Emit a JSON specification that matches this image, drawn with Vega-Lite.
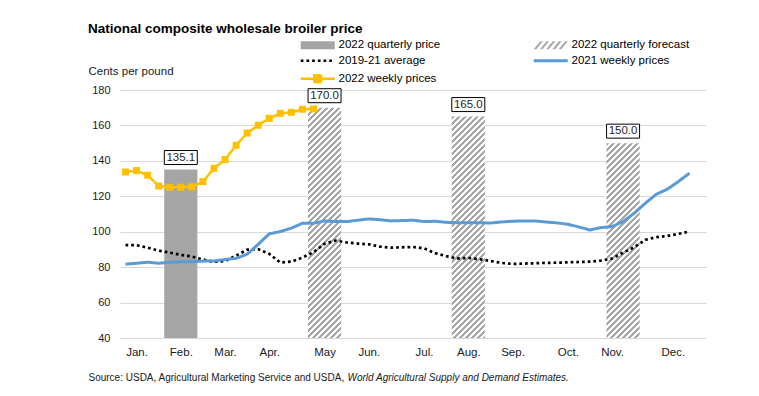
{
"$schema": "https://vega.github.io/schema/vega-lite/v6.json",
"width": 586, "height": 248,
"autosize": {"type": "none"},
"padding": {"left": 120, "top": 90, "right": 53, "bottom": 58},
"background": "#ffffff",
"title": {"text": "National composite wholesale broiler price", "anchor": "start", "frame": "group", "dx": -32, "dy": 0, "fontSize": 13.5, "fontWeight": "bold", "color": "#000000", "font": "Liberation Sans"},
"config": {"font": "Liberation Sans", "view": {"stroke": null}, "axis": {"labelColor": "#1a1a1a", "titleColor": "#1a1a1a", "titleFontWeight": "normal"}},
"datasets": {
"quarterly": [
{"series": "2022 quarterly price", "week": 6, "price": 135.1},
{"series": "2022 quarterly forecast", "week": 19, "price": 170.0},
{"series": "2022 quarterly forecast", "week": 32, "price": 165.0},
{"series": "2022 quarterly forecast", "week": 46, "price": 150.0}
],
"weekly": [
{"series":"2019-21 average","week":1,"price":92.4},{"series":"2019-21 average","week":2,"price":92.4},{"series":"2019-21 average","week":3,"price":91.0},{"series":"2019-21 average","week":4,"price":89.3},{"series":"2019-21 average","week":5,"price":88.2},{"series":"2019-21 average","week":6,"price":86.9},{"series":"2019-21 average","week":7,"price":86.0},{"series":"2019-21 average","week":8,"price":84.3},{"series":"2019-21 average","week":9,"price":83.0},{"series":"2019-21 average","week":10,"price":83.5},{"series":"2019-21 average","week":11,"price":86.5},{"series":"2019-21 average","week":12,"price":89.9},{"series":"2019-21 average","week":13,"price":90.1},{"series":"2019-21 average","week":14,"price":87.5},{"series":"2019-21 average","week":15,"price":82.6},{"series":"2019-21 average","week":16,"price":83.1},{"series":"2019-21 average","week":17,"price":85.4},{"series":"2019-21 average","week":18,"price":88.4},{"series":"2019-21 average","week":19,"price":93.2},{"series":"2019-21 average","week":20,"price":95.0},{"series":"2019-21 average","week":21,"price":93.9},{"series":"2019-21 average","week":22,"price":93.3},{"series":"2019-21 average","week":23,"price":92.9},{"series":"2019-21 average","week":24,"price":91.6},{"series":"2019-21 average","week":25,"price":91.0},{"series":"2019-21 average","week":26,"price":91.2},{"series":"2019-21 average","week":27,"price":91.4},{"series":"2019-21 average","week":28,"price":90.6},{"series":"2019-21 average","week":29,"price":87.9},{"series":"2019-21 average","week":30,"price":86.2},{"series":"2019-21 average","week":31,"price":84.9},{"series":"2019-21 average","week":32,"price":85.2},{"series":"2019-21 average","week":33,"price":84.5},{"series":"2019-21 average","week":34,"price":83.5},{"series":"2019-21 average","week":35,"price":82.4},{"series":"2019-21 average","week":36,"price":81.8},{"series":"2019-21 average","week":37,"price":82.0},{"series":"2019-21 average","week":38,"price":82.2},{"series":"2019-21 average","week":39,"price":82.4},{"series":"2019-21 average","week":40,"price":82.5},{"series":"2019-21 average","week":41,"price":82.7},{"series":"2019-21 average","week":42,"price":82.9},{"series":"2019-21 average","week":43,"price":83.1},{"series":"2019-21 average","week":44,"price":83.7},{"series":"2019-21 average","week":45,"price":84.8},{"series":"2019-21 average","week":46,"price":88.2},{"series":"2019-21 average","week":47,"price":91.2},{"series":"2019-21 average","week":48,"price":95.4},{"series":"2019-21 average","week":49,"price":96.9},{"series":"2019-21 average","week":50,"price":97.6},{"series":"2019-21 average","week":51,"price":98.8},{"series":"2019-21 average","week":52,"price":100.1},
{"series":"2021 weekly prices","week":1,"price":81.7},{"series":"2021 weekly prices","week":2,"price":82.2},{"series":"2021 weekly prices","week":3,"price":82.8},{"series":"2021 weekly prices","week":4,"price":82.2},{"series":"2021 weekly prices","week":5,"price":82.8},{"series":"2021 weekly prices","week":6,"price":83.0},{"series":"2021 weekly prices","week":7,"price":83.1},{"series":"2021 weekly prices","week":8,"price":83.4},{"series":"2021 weekly prices","week":9,"price":83.5},{"series":"2021 weekly prices","week":10,"price":84.3},{"series":"2021 weekly prices","week":11,"price":85.0},{"series":"2021 weekly prices","week":12,"price":87.3},{"series":"2021 weekly prices","week":13,"price":92.9},{"series":"2021 weekly prices","week":14,"price":98.8},{"series":"2021 weekly prices","week":15,"price":100.1},{"series":"2021 weekly prices","week":16,"price":102.0},{"series":"2021 weekly prices","week":17,"price":104.8},{"series":"2021 weekly prices","week":18,"price":104.8},{"series":"2021 weekly prices","week":19,"price":106.1},{"series":"2021 weekly prices","week":20,"price":105.7},{"series":"2021 weekly prices","week":21,"price":105.7},{"series":"2021 weekly prices","week":22,"price":106.5},{"series":"2021 weekly prices","week":23,"price":107.2},{"series":"2021 weekly prices","week":24,"price":106.8},{"series":"2021 weekly prices","week":25,"price":106.1},{"series":"2021 weekly prices","week":26,"price":106.3},{"series":"2021 weekly prices","week":27,"price":106.5},{"series":"2021 weekly prices","week":28,"price":105.7},{"series":"2021 weekly prices","week":29,"price":105.9},{"series":"2021 weekly prices","week":30,"price":105.3},{"series":"2021 weekly prices","week":31,"price":105.1},{"series":"2021 weekly prices","week":32,"price":105.1},{"series":"2021 weekly prices","week":33,"price":105.1},{"series":"2021 weekly prices","week":34,"price":104.9},{"series":"2021 weekly prices","week":35,"price":105.5},{"series":"2021 weekly prices","week":36,"price":105.9},{"series":"2021 weekly prices","week":37,"price":106.1},{"series":"2021 weekly prices","week":38,"price":106.1},{"series":"2021 weekly prices","week":39,"price":105.5},{"series":"2021 weekly prices","week":40,"price":105.0},{"series":"2021 weekly prices","week":41,"price":104.2},{"series":"2021 weekly prices","week":42,"price":102.7},{"series":"2021 weekly prices","week":43,"price":101.0},{"series":"2021 weekly prices","week":44,"price":102.3},{"series":"2021 weekly prices","week":45,"price":102.9},{"series":"2021 weekly prices","week":46,"price":105.7},{"series":"2021 weekly prices","week":47,"price":110.4},{"series":"2021 weekly prices","week":48,"price":116.0},{"series":"2021 weekly prices","week":49,"price":121.1},{"series":"2021 weekly prices","week":50,"price":124.0},{"series":"2021 weekly prices","week":51,"price":128.3},{"series":"2021 weekly prices","week":52,"price":133.0},
{"series":"2022 weekly prices","week":1,"price":133.7},{"series":"2022 weekly prices","week":2,"price":134.5},{"series":"2022 weekly prices","week":3,"price":131.9},{"series":"2022 weekly prices","week":4,"price":125.8},{"series":"2022 weekly prices","week":5,"price":125.1},{"series":"2022 weekly prices","week":6,"price":125.1},{"series":"2022 weekly prices","week":7,"price":125.3},{"series":"2022 weekly prices","week":8,"price":128.3},{"series":"2022 weekly prices","week":9,"price":135.8},{"series":"2022 weekly prices","week":10,"price":140.7},{"series":"2022 weekly prices","week":11,"price":148.8},{"series":"2022 weekly prices","week":12,"price":155.7},{"series":"2022 weekly prices","week":13,"price":160.1},{"series":"2022 weekly prices","week":14,"price":164.0},{"series":"2022 weekly prices","week":15,"price":166.8},{"series":"2022 weekly prices","week":16,"price":167.4},{"series":"2022 weekly prices","week":17,"price":169.1},{"series":"2022 weekly prices","week":18,"price":169.3}
]
},
"encoding": {
"y": {"field": "price", "type": "quantitative", "scale": {"domain": [40, 180], "nice": false, "zero": false, "padding": 0},
 "axis": {"values": [40,60,80,100,120,140,160,180], "ticks": false, "domain": false, "grid": true, "gridColor": "#d9d9d9", "gridWidth": 1, "labelPadding": 10, "labelFontSize": 11, "title": "Cents per pound", "titleFontSize": 11.5, "titleAngle": 0, "titleX": -32, "titleY": -19, "titleAlign": "left", "titleBaseline": "middle"}}
},
"resolve": {"axis": {"x": "independent"}},
"layer": [
{
"encoding": {"x": {"field": "week", "type": "quantitative", "scale": {"domain": [0.5, 53.5], "nice": false, "zero": false, "padding": 0},
 "axis": {"values": [2,6,10,14,19,23,28,32,36,41,45,50.5], "labelExpr": "['Jan.','Feb.','Mar.','Apr.','May','Jun.','Jul.','Aug.','Sep.','Oct.','Nov.','Dec.'][indexof([2,6,10,14,19,23,28,32,36,41,45,50.5], datum.value)]", "ticks": false, "domain": false, "grid": false, "labelPadding": 8, "labelFontSize": 11.5, "labelFlush": false, "labelOverlap": false, "title": "Source: USDA, Agricultural Marketing Service and USDA,", "titleFontSize": 10, "titleX": -32, "titleY": 42.5, "titleAlign": "left", "titleBaseline": "alphabetic"}}},
"layer": [
{"data": {"name": "quarterly"}, "transform": [{"filter": "datum.week === 6"}], "mark": {"type": "bar", "width": 33.17, "fill": "#a5a5a5"}, "encoding": {"y2": {"datum": 40}}},
{"data": {"name": "quarterly"}, "transform": [{"filter": "datum.week === 19"}], "mark": {"type": "bar", "width": 33.17, "fill": {"gradient": "linear", "x1": 0, "y1": 0, "x2": 0.16177, "y2": 1.12312, "stops": [
{"offset":0,"color":"#a6a6a6"},{"offset":0.0114,"color":"#a6a6a6"},{"offset":0.0114,"color":"#ffffff"},{"offset":0.0227,"color":"#ffffff"},
{"offset":0.0227,"color":"#a6a6a6"},{"offset":0.0341,"color":"#a6a6a6"},{"offset":0.0341,"color":"#ffffff"},{"offset":0.0455,"color":"#ffffff"},
{"offset":0.0455,"color":"#a6a6a6"},{"offset":0.0568,"color":"#a6a6a6"},{"offset":0.0568,"color":"#ffffff"},{"offset":0.0682,"color":"#ffffff"},
{"offset":0.0682,"color":"#a6a6a6"},{"offset":0.0795,"color":"#a6a6a6"},{"offset":0.0795,"color":"#ffffff"},{"offset":0.0909,"color":"#ffffff"},
{"offset":0.0909,"color":"#a6a6a6"},{"offset":0.1023,"color":"#a6a6a6"},{"offset":0.1023,"color":"#ffffff"},{"offset":0.1136,"color":"#ffffff"},
{"offset":0.1136,"color":"#a6a6a6"},{"offset":0.125,"color":"#a6a6a6"},{"offset":0.125,"color":"#ffffff"},{"offset":0.1364,"color":"#ffffff"},
{"offset":0.1364,"color":"#a6a6a6"},{"offset":0.1477,"color":"#a6a6a6"},{"offset":0.1477,"color":"#ffffff"},{"offset":0.1591,"color":"#ffffff"},
{"offset":0.1591,"color":"#a6a6a6"},{"offset":0.1705,"color":"#a6a6a6"},{"offset":0.1705,"color":"#ffffff"},{"offset":0.1818,"color":"#ffffff"},
{"offset":0.1818,"color":"#a6a6a6"},{"offset":0.1932,"color":"#a6a6a6"},{"offset":0.1932,"color":"#ffffff"},{"offset":0.2045,"color":"#ffffff"},
{"offset":0.2045,"color":"#a6a6a6"},{"offset":0.2159,"color":"#a6a6a6"},{"offset":0.2159,"color":"#ffffff"},{"offset":0.2273,"color":"#ffffff"},
{"offset":0.2273,"color":"#a6a6a6"},{"offset":0.2386,"color":"#a6a6a6"},{"offset":0.2386,"color":"#ffffff"},{"offset":0.25,"color":"#ffffff"},
{"offset":0.25,"color":"#a6a6a6"},{"offset":0.2614,"color":"#a6a6a6"},{"offset":0.2614,"color":"#ffffff"},{"offset":0.2727,"color":"#ffffff"},
{"offset":0.2727,"color":"#a6a6a6"},{"offset":0.2841,"color":"#a6a6a6"},{"offset":0.2841,"color":"#ffffff"},{"offset":0.2955,"color":"#ffffff"},
{"offset":0.2955,"color":"#a6a6a6"},{"offset":0.3068,"color":"#a6a6a6"},{"offset":0.3068,"color":"#ffffff"},{"offset":0.3182,"color":"#ffffff"},
{"offset":0.3182,"color":"#a6a6a6"},{"offset":0.3295,"color":"#a6a6a6"},{"offset":0.3295,"color":"#ffffff"},{"offset":0.3409,"color":"#ffffff"},
{"offset":0.3409,"color":"#a6a6a6"},{"offset":0.3523,"color":"#a6a6a6"},{"offset":0.3523,"color":"#ffffff"},{"offset":0.3636,"color":"#ffffff"},
{"offset":0.3636,"color":"#a6a6a6"},{"offset":0.375,"color":"#a6a6a6"},{"offset":0.375,"color":"#ffffff"},{"offset":0.3864,"color":"#ffffff"},
{"offset":0.3864,"color":"#a6a6a6"},{"offset":0.3977,"color":"#a6a6a6"},{"offset":0.3977,"color":"#ffffff"},{"offset":0.4091,"color":"#ffffff"},
{"offset":0.4091,"color":"#a6a6a6"},{"offset":0.4205,"color":"#a6a6a6"},{"offset":0.4205,"color":"#ffffff"},{"offset":0.4318,"color":"#ffffff"},
{"offset":0.4318,"color":"#a6a6a6"},{"offset":0.4432,"color":"#a6a6a6"},{"offset":0.4432,"color":"#ffffff"},{"offset":0.4545,"color":"#ffffff"},
{"offset":0.4545,"color":"#a6a6a6"},{"offset":0.4659,"color":"#a6a6a6"},{"offset":0.4659,"color":"#ffffff"},{"offset":0.4773,"color":"#ffffff"},
{"offset":0.4773,"color":"#a6a6a6"},{"offset":0.4886,"color":"#a6a6a6"},{"offset":0.4886,"color":"#ffffff"},{"offset":0.5,"color":"#ffffff"},
{"offset":0.5,"color":"#a6a6a6"},{"offset":0.5114,"color":"#a6a6a6"},{"offset":0.5114,"color":"#ffffff"},{"offset":0.5227,"color":"#ffffff"},
{"offset":0.5227,"color":"#a6a6a6"},{"offset":0.5341,"color":"#a6a6a6"},{"offset":0.5341,"color":"#ffffff"},{"offset":0.5455,"color":"#ffffff"},
{"offset":0.5455,"color":"#a6a6a6"},{"offset":0.5568,"color":"#a6a6a6"},{"offset":0.5568,"color":"#ffffff"},{"offset":0.5682,"color":"#ffffff"},
{"offset":0.5682,"color":"#a6a6a6"},{"offset":0.5795,"color":"#a6a6a6"},{"offset":0.5795,"color":"#ffffff"},{"offset":0.5909,"color":"#ffffff"},
{"offset":0.5909,"color":"#a6a6a6"},{"offset":0.6023,"color":"#a6a6a6"},{"offset":0.6023,"color":"#ffffff"},{"offset":0.6136,"color":"#ffffff"},
{"offset":0.6136,"color":"#a6a6a6"},{"offset":0.625,"color":"#a6a6a6"},{"offset":0.625,"color":"#ffffff"},{"offset":0.6364,"color":"#ffffff"},
{"offset":0.6364,"color":"#a6a6a6"},{"offset":0.6477,"color":"#a6a6a6"},{"offset":0.6477,"color":"#ffffff"},{"offset":0.6591,"color":"#ffffff"},
{"offset":0.6591,"color":"#a6a6a6"},{"offset":0.6705,"color":"#a6a6a6"},{"offset":0.6705,"color":"#ffffff"},{"offset":0.6818,"color":"#ffffff"},
{"offset":0.6818,"color":"#a6a6a6"},{"offset":0.6932,"color":"#a6a6a6"},{"offset":0.6932,"color":"#ffffff"},{"offset":0.7045,"color":"#ffffff"},
{"offset":0.7045,"color":"#a6a6a6"},{"offset":0.7159,"color":"#a6a6a6"},{"offset":0.7159,"color":"#ffffff"},{"offset":0.7273,"color":"#ffffff"},
{"offset":0.7273,"color":"#a6a6a6"},{"offset":0.7386,"color":"#a6a6a6"},{"offset":0.7386,"color":"#ffffff"},{"offset":0.75,"color":"#ffffff"},
{"offset":0.75,"color":"#a6a6a6"},{"offset":0.7614,"color":"#a6a6a6"},{"offset":0.7614,"color":"#ffffff"},{"offset":0.7727,"color":"#ffffff"},
{"offset":0.7727,"color":"#a6a6a6"},{"offset":0.7841,"color":"#a6a6a6"},{"offset":0.7841,"color":"#ffffff"},{"offset":0.7955,"color":"#ffffff"},
{"offset":0.7955,"color":"#a6a6a6"},{"offset":0.8068,"color":"#a6a6a6"},{"offset":0.8068,"color":"#ffffff"},{"offset":0.8182,"color":"#ffffff"},
{"offset":0.8182,"color":"#a6a6a6"},{"offset":0.8295,"color":"#a6a6a6"},{"offset":0.8295,"color":"#ffffff"},{"offset":0.8409,"color":"#ffffff"},
{"offset":0.8409,"color":"#a6a6a6"},{"offset":0.8523,"color":"#a6a6a6"},{"offset":0.8523,"color":"#ffffff"},{"offset":0.8636,"color":"#ffffff"},
{"offset":0.8636,"color":"#a6a6a6"},{"offset":0.875,"color":"#a6a6a6"},{"offset":0.875,"color":"#ffffff"},{"offset":0.8864,"color":"#ffffff"},
{"offset":0.8864,"color":"#a6a6a6"},{"offset":0.8977,"color":"#a6a6a6"},{"offset":0.8977,"color":"#ffffff"},{"offset":0.9091,"color":"#ffffff"},
{"offset":0.9091,"color":"#a6a6a6"},{"offset":0.9205,"color":"#a6a6a6"},{"offset":0.9205,"color":"#ffffff"},{"offset":0.9318,"color":"#ffffff"},
{"offset":0.9318,"color":"#a6a6a6"},{"offset":0.9432,"color":"#a6a6a6"},{"offset":0.9432,"color":"#ffffff"},{"offset":0.9545,"color":"#ffffff"},
{"offset":0.9545,"color":"#a6a6a6"},{"offset":0.9659,"color":"#a6a6a6"},{"offset":0.9659,"color":"#ffffff"},{"offset":0.9773,"color":"#ffffff"},
{"offset":0.9773,"color":"#a6a6a6"},{"offset":0.9886,"color":"#a6a6a6"},{"offset":0.9886,"color":"#ffffff"},{"offset":1,"color":"#ffffff"}
]}}, "encoding": {"y2": {"datum": 40}}},
{"data": {"name": "quarterly"}, "transform": [{"filter": "datum.week === 32"}], "mark": {"type": "bar", "width": 33.17, "fill": {"gradient": "linear", "x1": 0, "y1": 0, "x2": 0.17468, "y2": 1.1661, "stops": [
{"offset":0,"color":"#a6a6a6"},{"offset":0.0114,"color":"#a6a6a6"},{"offset":0.0114,"color":"#ffffff"},{"offset":0.0227,"color":"#ffffff"},
{"offset":0.0227,"color":"#a6a6a6"},{"offset":0.0341,"color":"#a6a6a6"},{"offset":0.0341,"color":"#ffffff"},{"offset":0.0455,"color":"#ffffff"},
{"offset":0.0455,"color":"#a6a6a6"},{"offset":0.0568,"color":"#a6a6a6"},{"offset":0.0568,"color":"#ffffff"},{"offset":0.0682,"color":"#ffffff"},
{"offset":0.0682,"color":"#a6a6a6"},{"offset":0.0795,"color":"#a6a6a6"},{"offset":0.0795,"color":"#ffffff"},{"offset":0.0909,"color":"#ffffff"},
{"offset":0.0909,"color":"#a6a6a6"},{"offset":0.1023,"color":"#a6a6a6"},{"offset":0.1023,"color":"#ffffff"},{"offset":0.1136,"color":"#ffffff"},
{"offset":0.1136,"color":"#a6a6a6"},{"offset":0.125,"color":"#a6a6a6"},{"offset":0.125,"color":"#ffffff"},{"offset":0.1364,"color":"#ffffff"},
{"offset":0.1364,"color":"#a6a6a6"},{"offset":0.1477,"color":"#a6a6a6"},{"offset":0.1477,"color":"#ffffff"},{"offset":0.1591,"color":"#ffffff"},
{"offset":0.1591,"color":"#a6a6a6"},{"offset":0.1705,"color":"#a6a6a6"},{"offset":0.1705,"color":"#ffffff"},{"offset":0.1818,"color":"#ffffff"},
{"offset":0.1818,"color":"#a6a6a6"},{"offset":0.1932,"color":"#a6a6a6"},{"offset":0.1932,"color":"#ffffff"},{"offset":0.2045,"color":"#ffffff"},
{"offset":0.2045,"color":"#a6a6a6"},{"offset":0.2159,"color":"#a6a6a6"},{"offset":0.2159,"color":"#ffffff"},{"offset":0.2273,"color":"#ffffff"},
{"offset":0.2273,"color":"#a6a6a6"},{"offset":0.2386,"color":"#a6a6a6"},{"offset":0.2386,"color":"#ffffff"},{"offset":0.25,"color":"#ffffff"},
{"offset":0.25,"color":"#a6a6a6"},{"offset":0.2614,"color":"#a6a6a6"},{"offset":0.2614,"color":"#ffffff"},{"offset":0.2727,"color":"#ffffff"},
{"offset":0.2727,"color":"#a6a6a6"},{"offset":0.2841,"color":"#a6a6a6"},{"offset":0.2841,"color":"#ffffff"},{"offset":0.2955,"color":"#ffffff"},
{"offset":0.2955,"color":"#a6a6a6"},{"offset":0.3068,"color":"#a6a6a6"},{"offset":0.3068,"color":"#ffffff"},{"offset":0.3182,"color":"#ffffff"},
{"offset":0.3182,"color":"#a6a6a6"},{"offset":0.3295,"color":"#a6a6a6"},{"offset":0.3295,"color":"#ffffff"},{"offset":0.3409,"color":"#ffffff"},
{"offset":0.3409,"color":"#a6a6a6"},{"offset":0.3523,"color":"#a6a6a6"},{"offset":0.3523,"color":"#ffffff"},{"offset":0.3636,"color":"#ffffff"},
{"offset":0.3636,"color":"#a6a6a6"},{"offset":0.375,"color":"#a6a6a6"},{"offset":0.375,"color":"#ffffff"},{"offset":0.3864,"color":"#ffffff"},
{"offset":0.3864,"color":"#a6a6a6"},{"offset":0.3977,"color":"#a6a6a6"},{"offset":0.3977,"color":"#ffffff"},{"offset":0.4091,"color":"#ffffff"},
{"offset":0.4091,"color":"#a6a6a6"},{"offset":0.4205,"color":"#a6a6a6"},{"offset":0.4205,"color":"#ffffff"},{"offset":0.4318,"color":"#ffffff"},
{"offset":0.4318,"color":"#a6a6a6"},{"offset":0.4432,"color":"#a6a6a6"},{"offset":0.4432,"color":"#ffffff"},{"offset":0.4545,"color":"#ffffff"},
{"offset":0.4545,"color":"#a6a6a6"},{"offset":0.4659,"color":"#a6a6a6"},{"offset":0.4659,"color":"#ffffff"},{"offset":0.4773,"color":"#ffffff"},
{"offset":0.4773,"color":"#a6a6a6"},{"offset":0.4886,"color":"#a6a6a6"},{"offset":0.4886,"color":"#ffffff"},{"offset":0.5,"color":"#ffffff"},
{"offset":0.5,"color":"#a6a6a6"},{"offset":0.5114,"color":"#a6a6a6"},{"offset":0.5114,"color":"#ffffff"},{"offset":0.5227,"color":"#ffffff"},
{"offset":0.5227,"color":"#a6a6a6"},{"offset":0.5341,"color":"#a6a6a6"},{"offset":0.5341,"color":"#ffffff"},{"offset":0.5455,"color":"#ffffff"},
{"offset":0.5455,"color":"#a6a6a6"},{"offset":0.5568,"color":"#a6a6a6"},{"offset":0.5568,"color":"#ffffff"},{"offset":0.5682,"color":"#ffffff"},
{"offset":0.5682,"color":"#a6a6a6"},{"offset":0.5795,"color":"#a6a6a6"},{"offset":0.5795,"color":"#ffffff"},{"offset":0.5909,"color":"#ffffff"},
{"offset":0.5909,"color":"#a6a6a6"},{"offset":0.6023,"color":"#a6a6a6"},{"offset":0.6023,"color":"#ffffff"},{"offset":0.6136,"color":"#ffffff"},
{"offset":0.6136,"color":"#a6a6a6"},{"offset":0.625,"color":"#a6a6a6"},{"offset":0.625,"color":"#ffffff"},{"offset":0.6364,"color":"#ffffff"},
{"offset":0.6364,"color":"#a6a6a6"},{"offset":0.6477,"color":"#a6a6a6"},{"offset":0.6477,"color":"#ffffff"},{"offset":0.6591,"color":"#ffffff"},
{"offset":0.6591,"color":"#a6a6a6"},{"offset":0.6705,"color":"#a6a6a6"},{"offset":0.6705,"color":"#ffffff"},{"offset":0.6818,"color":"#ffffff"},
{"offset":0.6818,"color":"#a6a6a6"},{"offset":0.6932,"color":"#a6a6a6"},{"offset":0.6932,"color":"#ffffff"},{"offset":0.7045,"color":"#ffffff"},
{"offset":0.7045,"color":"#a6a6a6"},{"offset":0.7159,"color":"#a6a6a6"},{"offset":0.7159,"color":"#ffffff"},{"offset":0.7273,"color":"#ffffff"},
{"offset":0.7273,"color":"#a6a6a6"},{"offset":0.7386,"color":"#a6a6a6"},{"offset":0.7386,"color":"#ffffff"},{"offset":0.75,"color":"#ffffff"},
{"offset":0.75,"color":"#a6a6a6"},{"offset":0.7614,"color":"#a6a6a6"},{"offset":0.7614,"color":"#ffffff"},{"offset":0.7727,"color":"#ffffff"},
{"offset":0.7727,"color":"#a6a6a6"},{"offset":0.7841,"color":"#a6a6a6"},{"offset":0.7841,"color":"#ffffff"},{"offset":0.7955,"color":"#ffffff"},
{"offset":0.7955,"color":"#a6a6a6"},{"offset":0.8068,"color":"#a6a6a6"},{"offset":0.8068,"color":"#ffffff"},{"offset":0.8182,"color":"#ffffff"},
{"offset":0.8182,"color":"#a6a6a6"},{"offset":0.8295,"color":"#a6a6a6"},{"offset":0.8295,"color":"#ffffff"},{"offset":0.8409,"color":"#ffffff"},
{"offset":0.8409,"color":"#a6a6a6"},{"offset":0.8523,"color":"#a6a6a6"},{"offset":0.8523,"color":"#ffffff"},{"offset":0.8636,"color":"#ffffff"},
{"offset":0.8636,"color":"#a6a6a6"},{"offset":0.875,"color":"#a6a6a6"},{"offset":0.875,"color":"#ffffff"},{"offset":0.8864,"color":"#ffffff"},
{"offset":0.8864,"color":"#a6a6a6"},{"offset":0.8977,"color":"#a6a6a6"},{"offset":0.8977,"color":"#ffffff"},{"offset":0.9091,"color":"#ffffff"},
{"offset":0.9091,"color":"#a6a6a6"},{"offset":0.9205,"color":"#a6a6a6"},{"offset":0.9205,"color":"#ffffff"},{"offset":0.9318,"color":"#ffffff"},
{"offset":0.9318,"color":"#a6a6a6"},{"offset":0.9432,"color":"#a6a6a6"},{"offset":0.9432,"color":"#ffffff"},{"offset":0.9545,"color":"#ffffff"},
{"offset":0.9545,"color":"#a6a6a6"},{"offset":0.9659,"color":"#a6a6a6"},{"offset":0.9659,"color":"#ffffff"},{"offset":0.9773,"color":"#ffffff"},
{"offset":0.9773,"color":"#a6a6a6"},{"offset":0.9886,"color":"#a6a6a6"},{"offset":0.9886,"color":"#ffffff"},{"offset":1,"color":"#ffffff"}
]}}, "encoding": {"y2": {"datum": 40}}},
{"data": {"name": "quarterly"}, "transform": [{"filter": "datum.week === 46"}], "mark": {"type": "bar", "width": 33.17, "fill": {"gradient": "linear", "x1": 0, "y1": 0, "x2": 0.22414, "y2": 1.31671, "stops": [
{"offset":0,"color":"#a6a6a6"},{"offset":0.0114,"color":"#a6a6a6"},{"offset":0.0114,"color":"#ffffff"},{"offset":0.0227,"color":"#ffffff"},
{"offset":0.0227,"color":"#a6a6a6"},{"offset":0.0341,"color":"#a6a6a6"},{"offset":0.0341,"color":"#ffffff"},{"offset":0.0455,"color":"#ffffff"},
{"offset":0.0455,"color":"#a6a6a6"},{"offset":0.0568,"color":"#a6a6a6"},{"offset":0.0568,"color":"#ffffff"},{"offset":0.0682,"color":"#ffffff"},
{"offset":0.0682,"color":"#a6a6a6"},{"offset":0.0795,"color":"#a6a6a6"},{"offset":0.0795,"color":"#ffffff"},{"offset":0.0909,"color":"#ffffff"},
{"offset":0.0909,"color":"#a6a6a6"},{"offset":0.1023,"color":"#a6a6a6"},{"offset":0.1023,"color":"#ffffff"},{"offset":0.1136,"color":"#ffffff"},
{"offset":0.1136,"color":"#a6a6a6"},{"offset":0.125,"color":"#a6a6a6"},{"offset":0.125,"color":"#ffffff"},{"offset":0.1364,"color":"#ffffff"},
{"offset":0.1364,"color":"#a6a6a6"},{"offset":0.1477,"color":"#a6a6a6"},{"offset":0.1477,"color":"#ffffff"},{"offset":0.1591,"color":"#ffffff"},
{"offset":0.1591,"color":"#a6a6a6"},{"offset":0.1705,"color":"#a6a6a6"},{"offset":0.1705,"color":"#ffffff"},{"offset":0.1818,"color":"#ffffff"},
{"offset":0.1818,"color":"#a6a6a6"},{"offset":0.1932,"color":"#a6a6a6"},{"offset":0.1932,"color":"#ffffff"},{"offset":0.2045,"color":"#ffffff"},
{"offset":0.2045,"color":"#a6a6a6"},{"offset":0.2159,"color":"#a6a6a6"},{"offset":0.2159,"color":"#ffffff"},{"offset":0.2273,"color":"#ffffff"},
{"offset":0.2273,"color":"#a6a6a6"},{"offset":0.2386,"color":"#a6a6a6"},{"offset":0.2386,"color":"#ffffff"},{"offset":0.25,"color":"#ffffff"},
{"offset":0.25,"color":"#a6a6a6"},{"offset":0.2614,"color":"#a6a6a6"},{"offset":0.2614,"color":"#ffffff"},{"offset":0.2727,"color":"#ffffff"},
{"offset":0.2727,"color":"#a6a6a6"},{"offset":0.2841,"color":"#a6a6a6"},{"offset":0.2841,"color":"#ffffff"},{"offset":0.2955,"color":"#ffffff"},
{"offset":0.2955,"color":"#a6a6a6"},{"offset":0.3068,"color":"#a6a6a6"},{"offset":0.3068,"color":"#ffffff"},{"offset":0.3182,"color":"#ffffff"},
{"offset":0.3182,"color":"#a6a6a6"},{"offset":0.3295,"color":"#a6a6a6"},{"offset":0.3295,"color":"#ffffff"},{"offset":0.3409,"color":"#ffffff"},
{"offset":0.3409,"color":"#a6a6a6"},{"offset":0.3523,"color":"#a6a6a6"},{"offset":0.3523,"color":"#ffffff"},{"offset":0.3636,"color":"#ffffff"},
{"offset":0.3636,"color":"#a6a6a6"},{"offset":0.375,"color":"#a6a6a6"},{"offset":0.375,"color":"#ffffff"},{"offset":0.3864,"color":"#ffffff"},
{"offset":0.3864,"color":"#a6a6a6"},{"offset":0.3977,"color":"#a6a6a6"},{"offset":0.3977,"color":"#ffffff"},{"offset":0.4091,"color":"#ffffff"},
{"offset":0.4091,"color":"#a6a6a6"},{"offset":0.4205,"color":"#a6a6a6"},{"offset":0.4205,"color":"#ffffff"},{"offset":0.4318,"color":"#ffffff"},
{"offset":0.4318,"color":"#a6a6a6"},{"offset":0.4432,"color":"#a6a6a6"},{"offset":0.4432,"color":"#ffffff"},{"offset":0.4545,"color":"#ffffff"},
{"offset":0.4545,"color":"#a6a6a6"},{"offset":0.4659,"color":"#a6a6a6"},{"offset":0.4659,"color":"#ffffff"},{"offset":0.4773,"color":"#ffffff"},
{"offset":0.4773,"color":"#a6a6a6"},{"offset":0.4886,"color":"#a6a6a6"},{"offset":0.4886,"color":"#ffffff"},{"offset":0.5,"color":"#ffffff"},
{"offset":0.5,"color":"#a6a6a6"},{"offset":0.5114,"color":"#a6a6a6"},{"offset":0.5114,"color":"#ffffff"},{"offset":0.5227,"color":"#ffffff"},
{"offset":0.5227,"color":"#a6a6a6"},{"offset":0.5341,"color":"#a6a6a6"},{"offset":0.5341,"color":"#ffffff"},{"offset":0.5455,"color":"#ffffff"},
{"offset":0.5455,"color":"#a6a6a6"},{"offset":0.5568,"color":"#a6a6a6"},{"offset":0.5568,"color":"#ffffff"},{"offset":0.5682,"color":"#ffffff"},
{"offset":0.5682,"color":"#a6a6a6"},{"offset":0.5795,"color":"#a6a6a6"},{"offset":0.5795,"color":"#ffffff"},{"offset":0.5909,"color":"#ffffff"},
{"offset":0.5909,"color":"#a6a6a6"},{"offset":0.6023,"color":"#a6a6a6"},{"offset":0.6023,"color":"#ffffff"},{"offset":0.6136,"color":"#ffffff"},
{"offset":0.6136,"color":"#a6a6a6"},{"offset":0.625,"color":"#a6a6a6"},{"offset":0.625,"color":"#ffffff"},{"offset":0.6364,"color":"#ffffff"},
{"offset":0.6364,"color":"#a6a6a6"},{"offset":0.6477,"color":"#a6a6a6"},{"offset":0.6477,"color":"#ffffff"},{"offset":0.6591,"color":"#ffffff"},
{"offset":0.6591,"color":"#a6a6a6"},{"offset":0.6705,"color":"#a6a6a6"},{"offset":0.6705,"color":"#ffffff"},{"offset":0.6818,"color":"#ffffff"},
{"offset":0.6818,"color":"#a6a6a6"},{"offset":0.6932,"color":"#a6a6a6"},{"offset":0.6932,"color":"#ffffff"},{"offset":0.7045,"color":"#ffffff"},
{"offset":0.7045,"color":"#a6a6a6"},{"offset":0.7159,"color":"#a6a6a6"},{"offset":0.7159,"color":"#ffffff"},{"offset":0.7273,"color":"#ffffff"},
{"offset":0.7273,"color":"#a6a6a6"},{"offset":0.7386,"color":"#a6a6a6"},{"offset":0.7386,"color":"#ffffff"},{"offset":0.75,"color":"#ffffff"},
{"offset":0.75,"color":"#a6a6a6"},{"offset":0.7614,"color":"#a6a6a6"},{"offset":0.7614,"color":"#ffffff"},{"offset":0.7727,"color":"#ffffff"},
{"offset":0.7727,"color":"#a6a6a6"},{"offset":0.7841,"color":"#a6a6a6"},{"offset":0.7841,"color":"#ffffff"},{"offset":0.7955,"color":"#ffffff"},
{"offset":0.7955,"color":"#a6a6a6"},{"offset":0.8068,"color":"#a6a6a6"},{"offset":0.8068,"color":"#ffffff"},{"offset":0.8182,"color":"#ffffff"},
{"offset":0.8182,"color":"#a6a6a6"},{"offset":0.8295,"color":"#a6a6a6"},{"offset":0.8295,"color":"#ffffff"},{"offset":0.8409,"color":"#ffffff"},
{"offset":0.8409,"color":"#a6a6a6"},{"offset":0.8523,"color":"#a6a6a6"},{"offset":0.8523,"color":"#ffffff"},{"offset":0.8636,"color":"#ffffff"},
{"offset":0.8636,"color":"#a6a6a6"},{"offset":0.875,"color":"#a6a6a6"},{"offset":0.875,"color":"#ffffff"},{"offset":0.8864,"color":"#ffffff"},
{"offset":0.8864,"color":"#a6a6a6"},{"offset":0.8977,"color":"#a6a6a6"},{"offset":0.8977,"color":"#ffffff"},{"offset":0.9091,"color":"#ffffff"},
{"offset":0.9091,"color":"#a6a6a6"},{"offset":0.9205,"color":"#a6a6a6"},{"offset":0.9205,"color":"#ffffff"},{"offset":0.9318,"color":"#ffffff"},
{"offset":0.9318,"color":"#a6a6a6"},{"offset":0.9432,"color":"#a6a6a6"},{"offset":0.9432,"color":"#ffffff"},{"offset":0.9545,"color":"#ffffff"},
{"offset":0.9545,"color":"#a6a6a6"},{"offset":0.9659,"color":"#a6a6a6"},{"offset":0.9659,"color":"#ffffff"},{"offset":0.9773,"color":"#ffffff"},
{"offset":0.9773,"color":"#a6a6a6"},{"offset":0.9886,"color":"#a6a6a6"},{"offset":0.9886,"color":"#ffffff"},{"offset":1,"color":"#ffffff"}
]}}, "encoding": {"y2": {"datum": 40}}},
{"data": {"name": "weekly"}, "mark": {"type": "line", "strokeCap": "butt", "strokeJoin": "round"},
 "encoding": {
  "color": {"field": "series", "type": "nominal",
   "scale": {"domain": ["2022 quarterly price", "2019-21 average", "2022 weekly prices", "2022 quarterly forecast", "2021 weekly prices"], "range": ["#a5a5a5", "#000000", "#ffc000", "#a5a5a5", "#5b9bd5"]},
   "legend": {"orient": "none", "legendX": 205, "legendY": -51, "columns": 2, "columnPadding": 86, "rowPadding": 3, "symbolSize": 100, "labelFontSize": 11.5, "labelColor": "#000000", "labelOffset": 2, "labelLimit": 0, "title": null,
    "encode": {"symbols": {"update": {
     "shape": {"signal": "datum.value === '2022 quarterly price' ? 'M-6,-0.8H0.8V0.8H-6Z' : datum.value === '2022 quarterly forecast' ? 'M-6,0.8L-4.7,-0.8L-4.2,-0.8L-5.5,0.8Z M-4.75,0.8L-3.45,-0.8L-2.95,-0.8L-4.25,0.8Z M-3.5,0.8L-2.2,-0.8L-1.7,-0.8L-3,0.8Z M-2.25,0.8L-0.95,-0.8L-0.45,-0.8L-1.75,0.8Z M-1,0.8L0.3,-0.8L0.8,-0.8L-0.5,0.8Z' : datum.value === '2022 weekly prices' ? 'M-6,0H0.8M-3.3,-0.7H-1.9V0.7H-3.3Z' : 'M-6,0H0.8'"},
     "fill": {"signal": "datum.value === '2022 quarterly price' || datum.value === '2022 quarterly forecast' ? '#a5a5a5' : datum.value === '2022 weekly prices' ? '#ffc000' : 'transparent'"},
     "stroke": {"signal": "datum.value === '2019-21 average' ? '#000000' : datum.value === '2021 weekly prices' ? '#5b9bd5' : datum.value === '2022 weekly prices' ? '#ffc000' : 'transparent'"},
     "strokeWidth": {"signal": "datum.value === '2019-21 average' ? 2.7 : datum.value === '2021 weekly prices' ? 3 : datum.value === '2022 weekly prices' ? 2.5 : 0"},
     "strokeDash": {"signal": "datum.value === '2019-21 average' ? [2.7, 3] : [1, 0]"},
     "opacity": {"value": 1}
    }}}}},
  "strokeDash": {"condition": {"test": "datum.series === '2019-21 average'", "value": [2.7, 3]}, "value": [1, 0]},
  "strokeWidth": {"condition": [{"test": "datum.series === '2019-21 average'", "value": 2.7}, {"test": "datum.series === '2021 weekly prices'", "value": 3}], "value": 2.5}
 }},
{"data": {"name": "weekly"}, "transform": [{"filter": "datum.series === '2022 weekly prices'"}], "mark": {"type": "point", "shape": "square", "size": 49, "filled": true, "fill": "#ffc000", "opacity": 1, "strokeWidth": 0}}
]
},
{
"data": {"name": "quarterly"},
"encoding": {"x": {"field": "week", "type": "quantitative", "scale": {"domain": [0.5, 53.5], "nice": false, "zero": false, "padding": 0},
 "axis": {"orient": "top", "labels": false, "ticks": false, "domain": false, "grid": false, "title": "World Agricultural Supply and Demand Estimates.", "titleFontStyle": "italic", "titleFontSize": 10, "titleX": 227, "titleY": 290.5, "titleAlign": "left", "titleBaseline": "alphabetic"}}},
"layer": [
{"mark": {"type": "point", "shape": "M-3.3,-1.4H3.3V1.4H-3.3Z", "size": 100, "filled": true, "fill": "#ffffff", "stroke": "#000000", "strokeWidth": 1, "opacity": 1, "yOffset": -12}},
{"mark": {"type": "text", "yOffset": -12, "fontSize": 11.5, "baseline": "middle", "fill": "#262626"}, "encoding": {"text": {"field": "price", "type": "quantitative", "format": ".1f"}}}
]
}
]
}
